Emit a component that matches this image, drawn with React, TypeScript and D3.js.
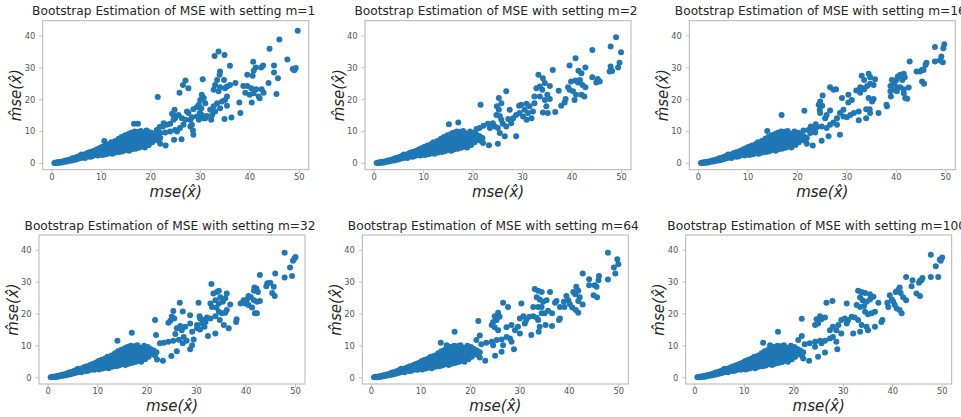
import React from "react";
import * as d3 from "d3";

type Pt = [number, number];

const settings = [1, 2, 16, 32, 64, 100];
const xTicks = [0, 10, 20, 30, 40, 50];
const yTicks = [0, 10, 20, 30, 40];
const xDomain: [number, number] = [-1.86, 51.92];
const yDomain: [number, number] = [-1.98, 44.77];

// dense low-error band shared by every panel
const denseBand: Pt[] = [
  [0.5,0.1],[0.8,0.3],[1.0,0.1],[1.3,0.4],[1.5,0.2],[1.8,0.5],[2.0,0.3],[2.3,0.7],[2.5,0.5],[2.8,0.9],[3.0,0.6],
  [3.3,1.1],[3.5,0.8],[3.8,1.3],[4.0,0.9],[4.2,1.6],[4.5,1.1],[4.7,1.8],[5.0,1.3],[5.2,2.1],[5.4,1.5],[5.7,2.4],[5.9,1.7],[6.0,2.8],
  [6.2,2.0],[6.4,2.6],[6.7,1.7],[6.9,3.0],[7.1,2.3],[7.3,3.3],[7.6,2.1],[7.8,3.6],[8.0,2.2],
  [8.2,2.3],[8.3,3.4],[8.5,4.0],[8.7,2.6],[8.9,3.6],[9.1,4.4],[9.3,2.5],[9.5,3.3],[9.7,4.8],[9.9,2.8],[10.0,3.9],
  [10.2,5.2],[10.3,2.6],[10.5,3.6],[10.6,4.6],[10.8,5.6],[11.0,2.9],[11.1,4.0],[11.3,5.0],[11.5,6.0],[11.6,3.2],[11.8,4.4],[12.0,5.5],[12.0,6.6],
  [12.2,3.0],[12.3,4.0],[12.5,5.0],[12.6,6.2],[12.8,7.0],[12.9,3.4],[13.1,4.5],[13.2,5.6],[13.4,6.8],[13.5,7.7],[13.7,3.6],[13.8,4.8],[13.9,6.0],
  [14.0,7.2],[14.1,8.3],[14.3,3.8],[14.4,5.0],[14.5,6.3],[14.7,7.6],[14.8,8.8],[14.9,4.2],[15.0,5.4],[15.2,6.6],[15.3,7.8],[15.5,9.2],[15.6,4.0],[15.7,5.2],[15.9,6.4],[15.9,8.4],
  [16.0,9.6],[16.1,7.4],[16.2,4.4],[16.3,5.6],[16.5,6.8],[16.6,8.6],[16.7,10.0],[16.9,4.6],[17.0,5.8],[17.1,7.2],[17.3,8.6],[17.4,9.9],[17.6,4.9],[17.7,6.2],[17.8,7.6],[17.9,9.0],
  [18.0,10.2],[18.2,5.3],[18.3,6.6],[18.5,8.0],[18.6,9.4],[18.8,5.0],[18.9,6.3],[19.1,7.5],[19.2,8.8],[19.4,10.0],[19.6,5.8],[19.7,7.0],[19.9,8.3],[20.1,9.6],[20.3,6.6],[20.5,7.9],[20.7,9.0],[21.0,7.4],[21.3,8.5],[21.6,7.0],[21.9,8.0]
];

const sparseM1: Pt[] = [
  [49.7,41.6],[46.0,38.9],[44.0,36.0],[47.6,32.6],[48.7,29.6],[49.3,29.9],[49.0,29.2],[44.9,30.7],[44.9,28.5],[45.7,26.7],[45.4,21.8],[43.8,25.2],[42.7,30.7],[42.3,30.1],[40.7,31.9],[41.2,30.1],[40.8,29.1],[40.6,27.5],[39.5,27.8],[38.7,24.3],[39.5,24.3],[40.3,23.6],[41.3,23.3],[42.4,23.3],[39.1,22.2],[40.0,21.5],[40.8,22.0],[41.8,21.0],[42.8,22.2],[42.0,20.4],[40.4,19.1],[37.9,19.1],[38.1,15.8],[36.3,14.4],[34.9,13.9],[32.9,33.7],[33.7,35.1],[34.9,34.0],[36.0,30.6],[34.0,28.8],[33.9,27.8],[34.8,26.2],[33.4,26.2],[34.0,23.9],[35.0,23.6],[35.4,24.1],[36.0,24.6],[37.1,25.2],[33.0,24.6],[32.7,23.1],[33.7,22.6],[35.4,21.0],[35.0,19.9],[35.4,18.1],[34.4,19.4],[33.4,18.9],[34.0,17.3],[32.7,17.9],[32.0,16.8],[33.0,16.3],[32.4,15.2],[31.3,14.9],[32.2,13.7],[30.7,14.2],[30.5,26.4],[30.3,21.5],[30.7,20.5],[30.0,19.9],[31.0,18.9],[29.7,18.4],[30.2,17.3],[29.3,17.6],[28.6,17.0],[29.9,15.8],[30.3,15.2],[31.0,14.2],[29.3,14.7],[28.3,14.5],[29.7,13.7],[28.6,9.0],[28.0,11.6],[27.0,26.0],[26.5,24.6],[27.6,23.6],[25.8,22.2],[21.4,20.8],[24.8,16.8],[24.6,15.2],[24.3,15.6],[24.9,14.2],[25.6,15.2],[24.6,13.7],[23.9,12.4],[23.2,12.1],[22.4,11.6],[21.8,11.4],[21.2,10.5],[22.6,12.6],[26.3,14.2],[27.0,13.7],[27.3,16.3],[27.6,15.8],[26.6,12.1],[25.9,11.1],[24.9,10.5],[23.9,10.0],[22.9,9.7],[21.9,9.5],[20.9,9.3],[28.3,12.1],[28.0,13.7],[25.3,10.0],[26.2,7.6],[24.7,7.4],[21.9,6.2],[23.0,5.6],[28.5,10.3],[16.6,12.4],[17.4,12.4],[19.1,10.3],[10.6,7.0]
];

const sparseM2: Pt[] = [
  [48.9,39.6],[47.8,36.7],[49.9,34.9],[44.1,35.6],[40.7,33.0],[39.5,30.7],[42.7,30.1],[49.6,31.6],[47.8,30.4],[49.3,30.1],[48.1,29.0],[47.6,28.8],[41.3,29.1],[41.9,28.3],[44.1,27.0],[45.2,26.5],[45.6,25.7],[44.9,25.4],[39.8,25.7],[40.7,26.0],[41.2,25.4],[41.6,26.2],[42.1,24.6],[42.7,23.9],[39.2,23.9],[39.5,23.1],[40.2,22.6],[40.8,21.5],[41.9,21.5],[42.5,21.0],[40.5,19.9],[38.7,20.2],[38.5,19.1],[37.8,18.1],[37.3,22.8],[36.1,29.3],[36.6,16.1],[33.2,27.8],[34.1,26.7],[34.5,25.2],[33.5,24.1],[35.5,24.3],[32.8,23.6],[34.0,23.1],[35.0,21.5],[35.5,20.2],[34.5,19.9],[33.5,21.0],[32.4,21.0],[34.8,17.9],[35.1,15.8],[34.1,16.0],[32.4,18.9],[31.4,17.9],[30.8,18.7],[29.7,18.4],[29.3,18.1],[30.4,16.8],[29.4,15.8],[32.1,16.3],[31.1,15.8],[31.8,14.2],[30.8,13.7],[30.1,14.7],[28.7,15.2],[28.1,14.2],[27.4,16.8],[28.7,8.5],[27.1,13.9],[27.7,12.6],[26.7,11.6],[26.0,12.4],[25.7,13.7],[25.4,14.9],[24.7,15.2],[25.2,16.8],[24.8,17.9],[25.2,20.5],[25.7,18.9],[26.7,22.6],[21.5,18.4],[24.0,12.6],[23.0,12.4],[22.1,11.8],[21.3,11.1],[20.7,10.8],[23.4,11.1],[24.4,11.6],[25.0,11.1],[25.4,9.5],[26.4,8.5],[25.0,6.2],[23.2,5.7],[22.0,6.4],[15.1,12.3],[17.0,12.8]
];

const sparseM16: Pt[] = [
  [49.7,37.4],[49.5,36.1],[47.8,36.5],[49.1,33.5],[48.8,32.3],[49.4,31.7],[47.8,32.0],[46.1,31.6],[45.9,30.9],[45.5,29.3],[44.8,28.8],[45.2,29.4],[44.1,28.8],[42.7,32.0],[45.2,25.7],[45.6,25.0],[41.5,28.1],[40.8,27.8],[41.7,27.0],[41.2,26.2],[40.3,27.3],[40.0,26.2],[39.1,26.2],[39.6,25.0],[38.8,24.3],[40.1,23.9],[40.8,23.9],[41.5,23.3],[42.5,23.8],[39.6,23.1],[38.8,22.6],[40.1,22.6],[38.9,21.0],[41.5,22.0],[41.8,20.5],[42.2,20.3],[38.1,17.9],[38.0,18.4],[36.4,15.8],[33.0,27.5],[33.5,26.2],[34.4,28.1],[34.7,27.0],[35.7,26.4],[32.7,23.9],[33.2,23.6],[34.1,24.3],[34.7,25.0],[35.4,24.6],[31.9,22.9],[32.7,22.2],[33.5,23.3],[34.4,20.5],[35.4,20.2],[35.1,19.4],[31.0,19.9],[30.3,19.1],[29.0,20.5],[30.3,21.5],[33.9,17.0],[34.6,17.0],[34.7,15.8],[33.9,14.2],[32.4,16.3],[31.4,15.8],[30.7,15.2],[32.4,13.5],[28.6,15.8],[29.3,14.7],[30.0,14.5],[29.3,16.8],[28.0,14.2],[27.3,12.8],[28.0,12.1],[26.6,23.9],[27.3,23.1],[27.8,23.3],[26.6,16.6],[25.9,15.2],[25.6,14.2],[25.1,21.3],[24.6,19.4],[24.3,18.4],[25.0,18.1],[24.5,16.8],[24.6,15.8],[21.4,16.5],[28.6,9.0],[26.3,8.5],[24.9,7.1],[23.1,5.6],[21.9,6.2],[26.6,12.1],[25.9,11.1],[24.9,11.6],[23.9,11.3],[23.2,11.1],[22.2,10.5],[21.2,10.3],[23.7,12.3],[22.7,11.6],[23.6,9.7],[22.6,9.5],[16.8,15.2],[13.9,10.2]
];

const sparseM32: Pt[] = [
  [47.8,39.2],[49.8,37.4],[50.0,37.9],[49.5,36.7],[48.9,34.6],[47.8,31.4],[49.3,31.9],[45.9,32.7],[42.8,32.2],[44.3,29.6],[44.9,29.8],[45.6,28.5],[45.3,26.6],[45.8,25.6],[44.1,28.7],[42.1,28.0],[41.6,27.3],[42.4,26.9],[41.7,28.3],[40.5,25.6],[40.2,24.5],[41.0,25.2],[41.6,24.3],[39.5,24.3],[39.9,23.3],[38.9,23.3],[40.5,22.8],[41.2,22.0],[42.2,23.8],[42.8,24.1],[41.8,20.2],[42.2,20.2],[38.0,17.5],[38.1,18.3],[36.5,15.5],[33.0,29.4],[33.4,26.4],[34.1,26.9],[34.5,27.3],[32.8,23.3],[33.1,22.2],[33.8,24.3],[34.8,25.2],[35.3,23.8],[36.1,26.4],[35.8,24.9],[34.5,23.3],[34.0,22.0],[36.8,23.0],[36.1,21.2],[34.5,20.7],[33.8,19.3],[35.1,20.2],[35.8,20.4],[32.1,18.9],[32.8,18.6],[31.8,17.5],[34.7,18.1],[35.5,16.5],[33.8,13.9],[32.3,13.1],[30.4,23.5],[30.6,19.3],[30.7,18.6],[31.4,18.1],[31.1,17.0],[30.1,16.5],[30.1,15.5],[29.1,14.4],[30.7,15.1],[31.6,16.0],[28.7,17.0],[27.7,16.0],[28.7,19.6],[27.2,20.8],[26.6,23.5],[25.3,20.9],[24.7,17.9],[25.0,19.1],[24.3,17.2],[25.5,18.6],[26.7,16.2],[26.0,15.5],[27.0,14.9],[25.7,13.7],[28.7,8.9],[26.0,8.3],[24.9,6.8],[23.2,5.3],[22.0,5.7],[21.6,18.1],[21.8,13.4],[27.4,12.8],[26.4,11.9],[25.3,11.6],[24.3,11.3],[23.4,11.0],[22.6,10.8],[28.0,11.6],[27.2,10.8],[29.1,10.2],[29.4,12.0],[16.9,14.1],[14.0,11.6]
];

const sparseM64: Pt[] = [
  [47.8,39.2],[49.7,37.2],[49.9,35.6],[49.0,34.6],[49.3,32.7],[47.8,30.8],[46.0,31.9],[45.9,30.6],[45.1,29.0],[45.5,28.5],[44.0,30.9],[44.0,29.0],[42.7,32.7],[41.4,28.5],[41.8,27.3],[40.8,26.9],[41.2,26.2],[42.1,25.2],[41.8,24.1],[44.9,25.9],[45.6,25.2],[39.4,25.6],[39.8,24.3],[38.9,23.8],[40.1,23.1],[40.6,22.0],[39.0,22.2],[38.1,22.2],[41.3,21.2],[41.8,20.4],[42.7,23.0],[38.1,18.6],[37.9,18.1],[36.5,16.2],[33.0,27.8],[33.7,27.3],[34.4,26.9],[36.1,26.9],[33.4,25.2],[34.0,24.5],[34.7,23.8],[32.7,22.2],[33.7,22.2],[34.4,22.2],[35.4,24.3],[35.7,21.0],[36.5,20.2],[35.0,20.2],[34.4,20.2],[37.1,23.5],[37.4,24.1],[30.3,23.3],[31.9,19.1],[32.7,19.3],[33.4,18.8],[31.3,18.1],[30.7,19.3],[30.0,18.6],[31.0,17.0],[35.2,16.5],[34.0,16.0],[33.7,18.1],[32.3,13.4],[33.8,14.4],[29.0,14.9],[29.6,16.0],[28.3,16.5],[27.3,15.8],[30.0,13.9],[28.8,8.9],[26.3,8.1],[25.0,6.9],[23.0,5.3],[21.9,6.3],[26.6,23.5],[27.6,22.2],[24.9,19.3],[25.3,18.1],[25.9,19.1],[25.6,20.4],[24.6,17.5],[24.3,16.5],[21.6,17.8],[24.9,15.8],[25.6,14.9],[21.9,13.2],[21.2,11.8],[27.3,12.8],[26.3,12.0],[25.3,11.8],[24.3,11.3],[23.2,11.0],[22.2,10.5],[24.6,10.2],[26.6,10.2],[28.0,12.3],[28.3,11.3],[16.8,14.4],[14.0,11.0],[15.2,10.2]
];

const sparseM100: Pt[] = [
  [47.7,38.6],[50.0,37.7],[49.7,36.7],[49.5,37.1],[48.7,35.0],[49.2,31.6],[47.7,31.6],[46.0,31.3],[45.5,30.4],[45.3,29.8],[45.8,30.6],[44.0,30.6],[43.8,28.7],[42.7,31.6],[41.4,28.3],[41.1,27.5],[40.6,26.9],[41.6,26.6],[42.1,25.2],[44.8,26.4],[45.5,25.6],[39.4,25.9],[39.8,24.5],[38.9,23.5],[40.1,23.8],[40.4,22.8],[39.1,22.2],[40.8,21.7],[41.4,21.2],[41.8,20.2],[42.7,24.3],[37.9,18.1],[37.7,17.5],[36.4,16.0],[33.0,27.3],[33.7,26.9],[34.4,26.6],[35.4,26.2],[33.4,25.2],[33.9,24.3],[34.7,23.8],[35.4,24.5],[36.1,25.4],[32.7,22.8],[33.4,22.2],[34.2,22.5],[37.1,23.5],[35.7,20.2],[35.0,19.9],[34.4,20.7],[36.4,20.7],[30.7,23.3],[31.7,19.1],[32.3,18.9],[31.0,18.1],[30.3,18.6],[29.6,18.1],[30.7,17.0],[33.0,18.1],[33.7,16.5],[34.7,16.0],[32.0,13.9],[33.4,14.4],[35.0,14.9],[29.0,16.5],[27.9,16.0],[28.6,14.9],[29.6,13.9],[27.3,14.9],[28.8,8.9],[26.3,7.9],[24.9,6.6],[23.1,5.3],[21.9,6.0],[26.6,23.5],[27.8,24.1],[24.6,18.3],[24.9,17.0],[25.6,18.3],[26.3,18.9],[25.3,19.3],[24.3,16.5],[21.6,18.5],[21.6,13.1],[20.9,11.8],[27.3,12.3],[26.3,11.6],[25.3,11.6],[24.3,11.3],[23.2,10.8],[22.2,10.5],[24.3,9.7],[25.6,10.8],[27.9,12.8],[28.6,11.3],[16.8,14.4],[13.8,11.0],[15.2,10.2]
];

const sparseSets: Pt[][] = [sparseM1, sparseM2, sparseM16, sparseM32, sparseM64, sparseM100];

// layout (pixels)
const W = 266;
const H = 149;
const panelPos = [
  { left: 42.7, top: 20.7 },
  { left: 365, top: 20.7 },
  { left: 689.3, top: 20.7 },
  { left: 39, top: 235 },
  { left: 362.3, top: 235 },
  { left: 685.7, top: 235 },
];

const FONT = "'DejaVu Sans', sans-serif";
const DOT = "#1f77b4";
const FRAME = "#b3b3b3";
const TICKTXT = "#555555";
const TEXT = "#262626";

function Panel({ idx }: { idx: number }) {
  const { left, top } = panelPos[idx];
  const x = d3.scaleLinear().domain(xDomain).range([0, W]);
  const y = d3.scaleLinear().domain(yDomain).range([H, 0]);
  const pts = denseBand.concat(sparseSets[idx]);
  return (
    <g transform={`translate(${left},${top})`}>
      <text
        x={W / 2 - 2}
        y={-5.5}
        textAnchor="middle"
        fontFamily={FONT}
        fontSize={12.2}
        fill={TEXT}
      >
        {`Bootstrap Estimation of MSE with setting m=${settings[idx]}`}
      </text>
      <g>
        {pts.map((p, i) => (
          <circle key={i} cx={x(p[0])} cy={y(p[1])} r={3} fill={DOT} />
        ))}
      </g>
      <rect x={0} y={0} width={W} height={H} fill="none" stroke={FRAME} strokeWidth={1} />
      {xTicks.map((t) => (
        <g key={"x" + t} transform={`translate(${x(t)},${H})`}>
          <line y1={0} y2={3.5} stroke={FRAME} strokeWidth={0.8} />
          <text y={10.4} textAnchor="middle" fontFamily={FONT} fontSize={8.3} fill={TICKTXT}>
            {t}
          </text>
        </g>
      ))}
      {yTicks.map((t) => (
        <g key={"y" + t} transform={`translate(0,${y(t)})`}>
          <line x1={0} x2={-3.5} stroke={FRAME} strokeWidth={0.8} />
          <text x={-7.5} dy="0.35em" textAnchor="end" fontFamily={FONT} fontSize={8.3} fill={TICKTXT}>
            {t}
          </text>
        </g>
      ))}
      <text
        x={W / 2}
        y={H + 27}
        textAnchor="middle"
        fontFamily={FONT}
        fontStyle="italic"
        fontSize={15}
        fill={TEXT}
      >
        {"mse(x\u0302)"}
      </text>
      <text
        transform={`translate(-21.5,${H / 2}) rotate(-90)`}
        textAnchor="middle"
        fontFamily={FONT}
        fontStyle="italic"
        fontSize={15}
        fill={TEXT}
      >
        {"m\u0302se(x\u0302)"}
      </text>
    </g>
  );
}

export default function App() {
  return (
    <svg
      width={961}
      height={417}
      style={{ position: "absolute", left: 0, top: 0, background: "#fff" }}
    >
      <rect x={0} y={0} width={961} height={417} fill="#fff" />
      {settings.map((_, i) => (
        <Panel key={i} idx={i} />
      ))}
    </svg>
  );
}
